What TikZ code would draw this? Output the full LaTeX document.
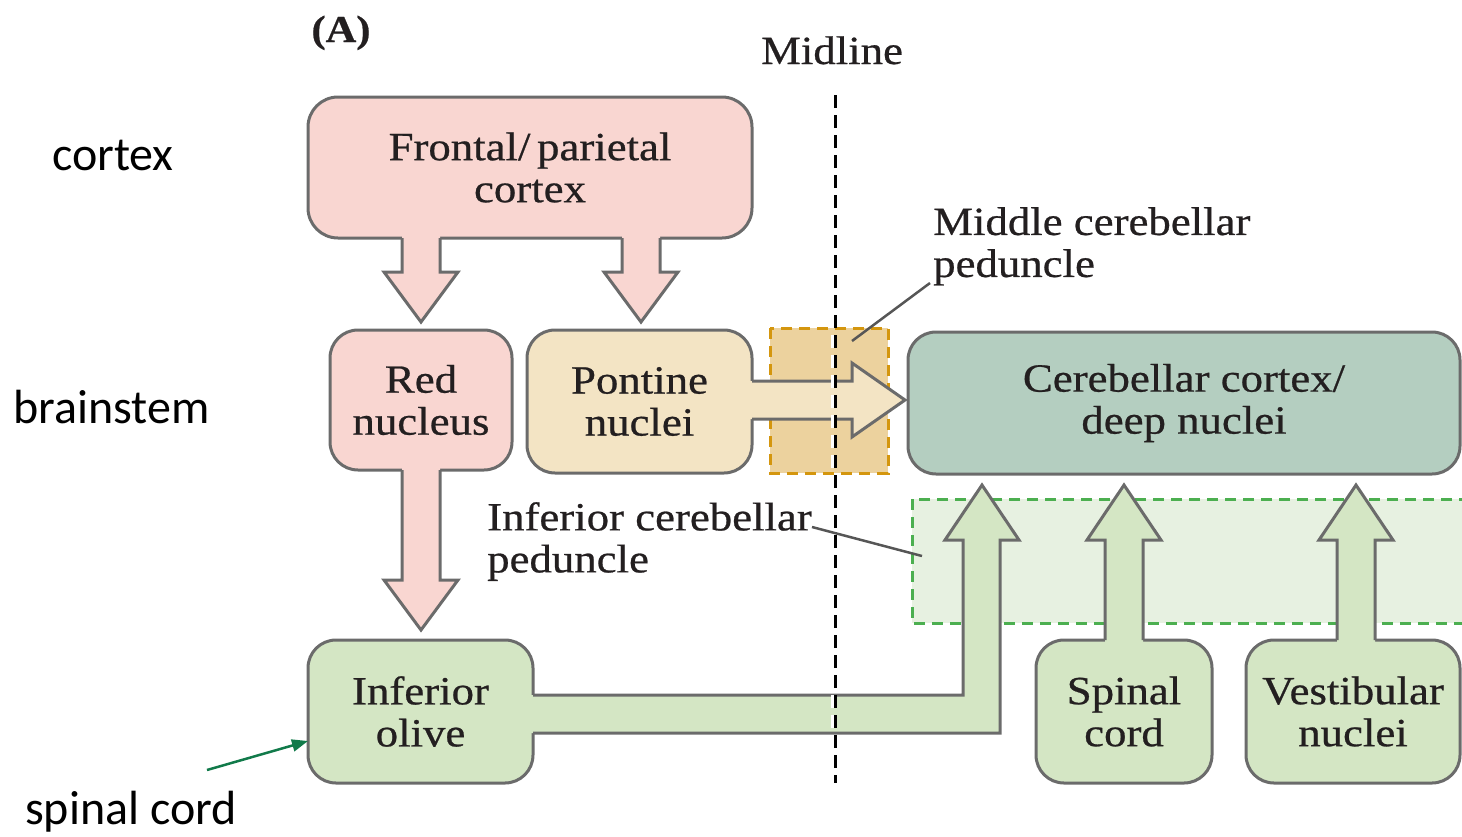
\documentclass[tikz,border=0pt]{standalone}
\usepackage{fontspec}
\setmainfont{Liberation Serif}[FakeStretch=1.12, FakeBold=0.6]
\newfontfamily\labelfont{Carlito}
\usetikzlibrary{arrows.meta}

\definecolor{pinkfill}{HTML}{F9D6D1}
\definecolor{tanfill}{HTML}{F3E4C4}
\definecolor{tealfill}{HTML}{B4CEC0}
\definecolor{greenfill}{HTML}{D4E6C4}
\definecolor{greenzone}{HTML}{E7F1E1}
\definecolor{greendash}{HTML}{4CAF50}
\definecolor{orangezone}{HTML}{ECD29E}
\definecolor{orangedash}{HTML}{D4960E}
\definecolor{edgegray}{HTML}{6B6B6B}
\definecolor{inkdark}{HTML}{231F20}
\definecolor{pointer}{HTML}{117A4A}

% block arrow pointing down: colour, x, y of root, y of head base, y of tip
\newcommand{\bdown}[5]{%
  \fill[#1] (#2-19,#3-5) -- (#2-19,#4) -- (#2-37,#4) -- (#2,#5) -- (#2+37,#4)
    -- (#2+19,#4) -- (#2+19,#3-5) -- cycle;
  \draw[arrline] (#2-19,#3) -- (#2-19,#4) -- (#2-37,#4) -- (#2,#5)
    -- (#2+37,#4) -- (#2+19,#4) -- (#2+19,#3);
}
% block arrow pointing up: colour, x, y of root, y of head base, y of tip
\newcommand{\bup}[5]{%
  \fill[#1] (#2-19,#3+5) -- (#2-19,#4) -- (#2-37,#4) -- (#2,#5) -- (#2+37,#4)
    -- (#2+19,#4) -- (#2+19,#3+5) -- cycle;
  \draw[arrline] (#2-19,#3) -- (#2-19,#4) -- (#2-37,#4) -- (#2,#5)
    -- (#2+37,#4) -- (#2+19,#4) -- (#2+19,#3);
}

\tikzset{
  box/.style={draw=edgegray, line width=3pt, rounded corners=28pt,
    inner sep=0pt, outer sep=0pt, align=center, text=inkdark,
    font=\fontsize{40}{42}\selectfont},
  arrline/.style={draw=edgegray, line width=3pt, line join=miter},
  zone/.style={line width=3pt, dash pattern=on 11pt off 7pt},
  lead/.style={draw=edgegray!80!black, line width=2.5pt},
  tag/.style={inner sep=0pt, align=left, text=inkdark,
    font=\fontsize{40}{42}\selectfont},
  side/.style={inner sep=0pt, font=\labelfont\fontsize{48}{52}\selectfont}
}

\begin{document}
\begin{tikzpicture}[x=1pt,y=-1pt]
\useasboundingbox (0,0) rectangle (1462,836);

% shaded peduncle zones
\fill[orangezone] (770,328) rectangle (888,473);
\draw[zone, draw=orangedash] (770,328) rectangle (888,473);
\fill[greenzone] (912,499) rectangle (1470,623);
\draw[zone, draw=greendash] (1470,499) -- (912,499) -- (912,623) -- (1470,623);

% boxes
\node[box, fill=pinkfill, minimum width=444pt, minimum height=141pt, rounded corners=30pt]
  (ctx) at (530,167.5) {Frontal/\,parietal\\cortex};
\node[box, fill=pinkfill, minimum width=182pt, minimum height=140pt]
  (red) at (421,400) {Red\\nucleus};
\node[box, fill=tanfill, minimum width=225pt, minimum height=143pt]
  (pon) at (639.5,401.5) {Pontine\\nuclei};
\node[box, fill=tealfill, minimum width=552pt, minimum height=142pt]
  (cer) at (1184,403) {Cerebellar cortex/\\deep nuclei};
\node[box, fill=greenfill, minimum width=225pt, minimum height=143pt]
  (oli) at (420.5,711.5) {Inferior\\olive};
\node[box, fill=greenfill, minimum width=176pt, minimum height=143pt]
  (spi) at (1124,711.5) {Spinal\\cord};
\node[box, fill=greenfill, minimum width=214pt, minimum height=143pt]
  (ves) at (1353,711.5) {Vestibular\\nuclei};

% block arrows
\bdown{pinkfill}{421}{238}{272}{322}
\bdown{pinkfill}{641}{238}{272}{322}
\bdown{pinkfill}{421}{470}{580}{630}
\bup{greenfill}{1124}{640}{540}{485}
\bup{greenfill}{1356}{640}{540}{485}

% pontine nuclei to cerebellum
\fill[tanfill] (747,381) -- (852,381) -- (852,363) -- (905,400) -- (852,437)
  -- (852,419) -- (747,419) -- cycle;
\draw[arrline] (752,381) -- (852,381) -- (852,363) -- (905,400) -- (852,437)
  -- (852,419) -- (752,419);

% inferior olive to cerebellum
\fill[greenfill] (528,695) -- (963,695) -- (963,540) -- (945,540) -- (982,485)
  -- (1019,540) -- (1000,540) -- (1000,733) -- (528,733) -- cycle;
\draw[arrline] (533,695) -- (963,695) -- (963,540) -- (945,540) -- (982,485)
  -- (1019,540) -- (1000,540) -- (1000,733) -- (533,733);

% midline
\draw[white, line width=3pt, dash pattern=on 13pt off 7pt] (832,95) -- (832,783);
\draw[black, line width=3pt, dash pattern=on 13pt off 7pt] (835,95) -- (835,783);
\node[tag, anchor=base] (mid) at (832,64) {Midline};
\node[tag, anchor=base, font=\bfseries\fontsize{38}{40}\selectfont] (lab) at (341,42) {(A)};

% peduncle labels with leaders
\node[tag, anchor=north west] (mcp) at (933,207) {Middle cerebellar\\peduncle};
\draw[lead] (930,283) -- (852,341);
\node[tag, anchor=north west] (icp) at (487,502) {Inferior cerebellar\\peduncle};
\draw[lead] (812,527) -- (922,556);

% level labels
\node[side, anchor=west] (lc) at (52,155) {cortex};
\node[side, anchor=west] (lb) at (13,407) {brainstem};
\node[side, anchor=base west] (ls) at (25,824) {spinal cord};
\coordinate (ptail) at (207,770);
\draw[pointer, line width=2.5pt, -{Triangle[length=16pt,width=12pt]}] (ptail) -- (oli.west |- 0,741);
\end{tikzpicture}
\end{document}
